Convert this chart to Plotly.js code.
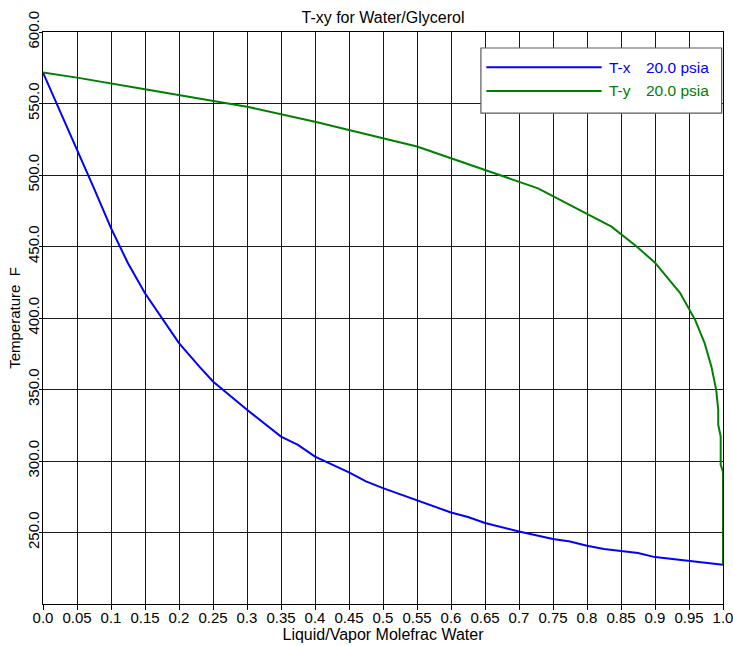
<!DOCTYPE html>
<html>
<head>
<meta charset="utf-8">
<script src="https://cdn.plot.ly/plotly-3.0.1.min.js"></script>
<style>
  html, body { margin: 0; padding: 0; background: #ffffff; }
  #chart { width: 733px; height: 646px; }
</style>
</head>
<body>
<div id="chart"></div>
<script>
// Liquid-phase water mole fraction and bubble temperature (F)
const liquidX = [0, 0.02, 0.05, 0.075, 0.1, 0.125, 0.15, 0.175, 0.2, 0.23, 0.25,
  0.3, 0.35, 0.375, 0.4, 0.45, 0.475, 0.5, 0.55, 0.6, 0.625, 0.65, 0.7, 0.75,
  0.775, 0.8, 0.825, 0.875, 0.9, 0.95, 1.0];
const liquidT = [571.6, 550.2, 518.7, 490.7, 462.8, 438.3, 417.3, 399.9, 382.4, 366.0, 355.6,
  335.8, 317.1, 311.3, 303.1, 292.0, 285.7, 281.0, 272.4, 264.0, 260.8, 256.6, 250.7, 245.4,
  243.7, 240.7, 238.4, 235.6, 232.8, 230.2, 227.4];

// Vapor-phase water mole fraction and dew temperature (F)
const vaporY = [0, 0.05, 0.15, 0.25, 0.3, 0.4, 0.55, 0.728, 0.836, 0.873, 0.9, 0.937,
  0.959, 0.973, 0.983, 0.99, 0.993, 0.993, 0.9966, 0.9966, 1.0, 1.0];
const vaporT = [571.7, 568.1, 560.0, 552.0, 547.8, 537.3, 519.9, 490.7, 463.9, 450.0, 438.7, 417.4,
  398.7, 382.4, 366.0, 349.8, 335.8, 325.3, 317.1, 297.3, 292.6, 227.4];

// Axis ticks
const xTickVals = [0, 0.05, 0.1, 0.15, 0.2, 0.25, 0.3, 0.35, 0.4, 0.45, 0.5,
  0.55, 0.6, 0.65, 0.7, 0.75, 0.8, 0.85, 0.9, 0.95, 1.0];
const xTickText = ['0.0', '0.05', '0.1', '0.15', '0.2', '0.25', '0.3', '0.35', '0.4', '0.45', '0.5',
  '0.55', '0.6', '0.65', '0.7', '0.75', '0.8', '0.85', '0.9', '0.95', '1.0'];
const yTickVals = [250, 300, 350, 400, 450, 500, 550, 600];
const yTickText = ['250.0', '300.0', '350.0', '400.0', '450.0', '500.0', '550.0', '600.0'];

// Series labels
const seriesNames = ['T-x', 'T-y'];
const pressureLabel = '20.0 psia';

const BLUE = '#0000ff';
const GREEN = '#008000';
const FONT = 'Liberation Sans, Arial, sans-serif';

const traces = [
  {
    x: liquidX, y: liquidT, type: 'scatter', mode: 'lines',
    name: seriesNames[0] + ' ' + pressureLabel,
    line: { color: BLUE, width: 2 }, showlegend: false
  },
  {
    x: vaporY, y: vaporT, type: 'scatter', mode: 'lines',
    name: seriesNames[1] + ' ' + pressureLabel,
    line: { color: GREEN, width: 2 }, showlegend: false
  }
];

// Boxed key in the upper-right corner of the plot
const keyBox = { x0: 0.644, x1: 0.998, y0: 0.858, y1: 0.972 };
const keyRows = [
  { y: 0.9383, color: BLUE, label: seriesNames[0] },
  { y: 0.8969, color: GREEN, label: seriesNames[1] }
];

const shapes = [
  {
    type: 'rect', xref: 'paper', yref: 'paper', layer: 'above',
    x0: keyBox.x0, x1: keyBox.x1, y0: keyBox.y0, y1: keyBox.y1,
    fillcolor: '#ffffff', line: { color: '#5a5a5a', width: 1.2 }
  }
];
const annotations = [];
keyRows.forEach(r => {
  shapes.push({
    type: 'line', xref: 'paper', yref: 'paper', layer: 'above',
    x0: 0.652, x1: 0.8215, y0: r.y, y1: r.y,
    line: { color: r.color, width: 2 }
  });
  annotations.push({
    xref: 'paper', yref: 'paper', x: 0.830, y: r.y, xanchor: 'left', yanchor: 'middle',
    text: r.label, showarrow: false, font: { family: FONT, size: 15.5, color: r.color }
  });
  annotations.push({
    xref: 'paper', yref: 'paper', x: 0.884, y: r.y, xanchor: 'left', yanchor: 'middle',
    text: pressureLabel, showarrow: false, font: { family: FONT, size: 15.5, color: r.color }
  });
});

const layout = {
  width: 733, height: 646,
  margin: { l: 43, r: 10, t: 32, b: 42, pad: 0 },
  paper_bgcolor: '#ffffff', plot_bgcolor: '#ffffff',
  font: { family: FONT, size: 15, color: '#000000' },
  showlegend: false,
  title: {
    text: 'T-xy for Water/Glycerol',
    font: { family: FONT, size: 16, color: '#000000' },
    x: 0.5, xref: 'paper', xanchor: 'center',
    y: 1 - 17 / 646, yref: 'container', yanchor: 'middle'
  },
  xaxis: {
    range: [0, 1], tickmode: 'array', tickvals: xTickVals, ticktext: xTickText,
    ticks: 'outside', ticklen: 5, tickcolor: '#000000', tickwidth: 1,
    ticklabelstandoff: -5, ticklabeloverflow: 'allow',
    showgrid: true, gridcolor: '#1a1a1a', gridwidth: 1,
    zeroline: false, showline: true, linecolor: '#000000', linewidth: 1, mirror: true,
    tickfont: { family: FONT, size: 15, color: '#000000' },
    title: { text: 'Liquid/Vapor Molefrac Water', font: { family: FONT, size: 16, color: '#000000' }, standoff: 2 }
  },
  yaxis: {
    range: [200, 600], tickmode: 'array', tickvals: yTickVals, ticktext: yTickText,
    tickangle: -90,
    ticks: 'outside', ticklen: 3, tickcolor: '#000000', tickwidth: 1,
    ticklabelstandoff: -6, ticklabeloverflow: 'allow',
    showgrid: true, gridcolor: '#1a1a1a', gridwidth: 1,
    zeroline: false, showline: true, linecolor: '#000000', linewidth: 1, mirror: true,
    tickfont: { family: FONT, size: 15, color: '#000000' },
    title: { text: 'Temperature&nbsp;&nbsp;F', font: { family: FONT, size: 15, color: '#000000' }, standoff: 0 }
  },
  shapes: shapes,
  annotations: annotations
};

Plotly.newPlot('chart', traces, layout, { staticPlot: true, displayModeBar: false });
</script>
</body>
</html>
